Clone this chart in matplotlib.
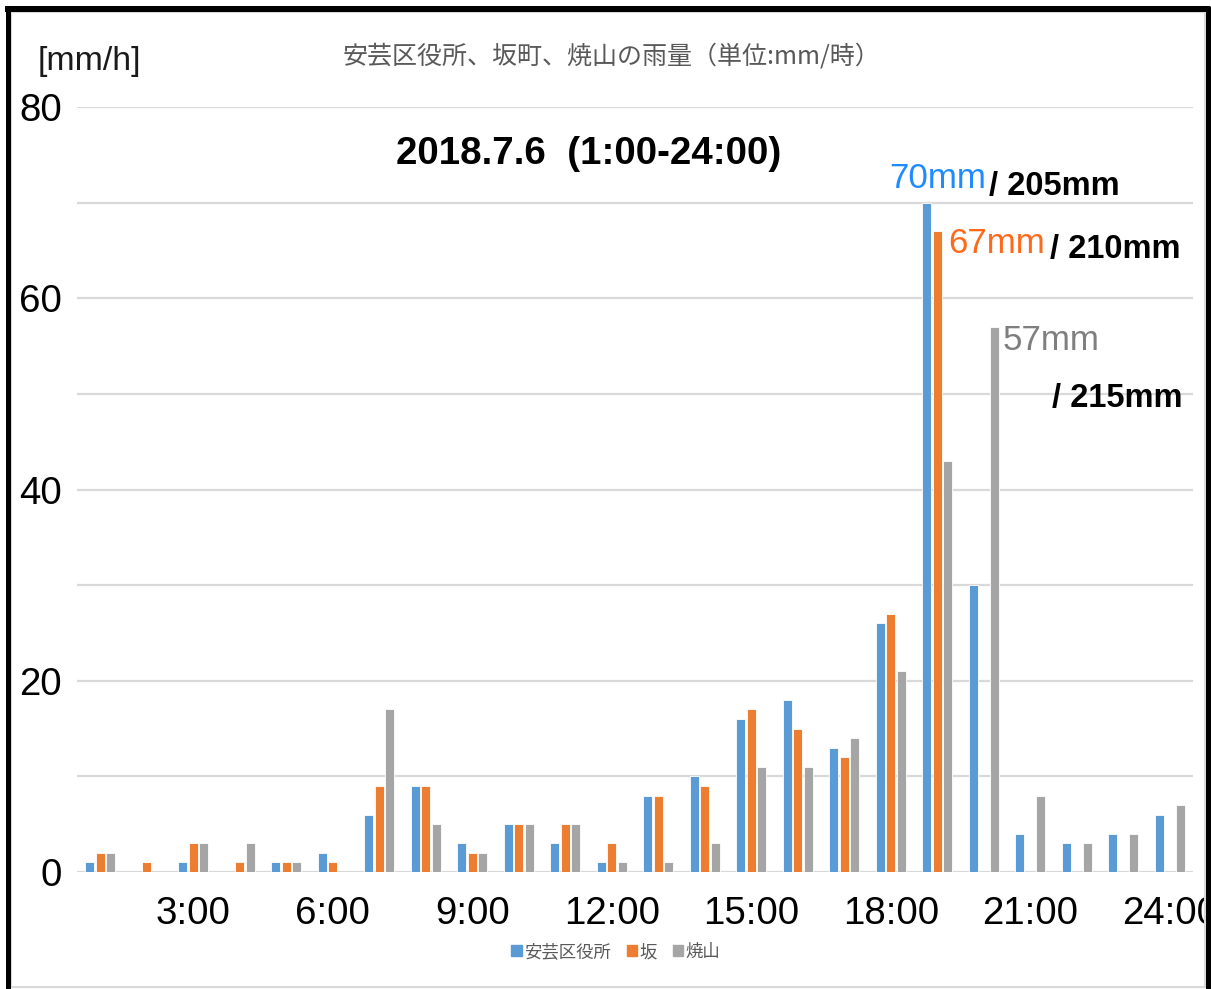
import matplotlib
matplotlib.use("Agg")
import matplotlib.pyplot as plt
from matplotlib import font_manager
from matplotlib.patches import Rectangle
from matplotlib.lines import Line2D

# ---- data -------------------------------------------------------------
hours = [f"{h}:00" for h in range(1, 25)]
tick_labels = ["3:00", "6:00", "9:00", "12:00", "15:00", "18:00", "21:00", "24:00"]
series_names = ["安芸区役所", "坂", "焼山"]
aki_ward = [1, 0, 1, 0, 1, 2, 6, 9, 3, 5, 3, 1, 8, 10, 16, 18, 13, 26, 70, 30, 4, 3, 4, 6]
saka = [2, 1, 3, 1, 1, 1, 9, 9, 2, 5, 5, 3, 8, 9, 17, 15, 12, 27, 67, 0, 0, 0, 0, 0]
yakeyama = [2, 0, 3, 3, 1, 0, 17, 5, 2, 5, 5, 1, 1, 3, 11, 11, 14, 21, 43, 57, 8, 3, 4, 7]
totals = [205, 210, 215]
title = "安芸区役所、坂町、焼山の雨量（単位:mm/時）"
date_text = "2018.7.6  (1:00-24:00)"
unit_text = "[mm/h]"

# ---- fonts ------------------------------------------------------------
_names = {f.name for f in font_manager.fontManager.ttflist}
NARROW = "Liberation Sans Narrow" in _names
LATIN = "Liberation Sans Narrow" if NARROW else "Liberation Sans"
CJK = "Noto Sans CJK JP"
K = 1.0 if NARROW else 0.84
plt.rcParams["font.family"] = [LATIN, CJK, "DejaVu Sans"]

W, H = 1211, 989
fig = plt.figure(figsize=(W / 100, H / 100), dpi=100)
fig.patch.set_facecolor("white")


def fx(px):
    return px / W


def fy(py):
    return 1 - py / H


ax = fig.add_axes([fx(77), fy(872), fx(1193) - fx(77), fy(107) - fy(872)])

colors = ["#5B9BD5", "#ED7D31", "#A5A5A5"]
x = list(range(len(hours)))
width = 0.195
step = 0.222
for k, (vals, c) in enumerate(zip([aki_ward, saka, yakeyama], colors)):
    ax.bar([xi + (k - 1) * step for xi in x], vals, width=width, color=c,
           edgecolor="white", linewidth=0.6, zorder=3)

ax.set_xlim(-0.5, len(hours) - 0.5)
ax.set_ylim(0, 80)
ax.set_yticks(range(0, 81, 10))
ax.set_yticklabels([str(v) if v % 20 == 0 else "" for v in range(0, 81, 10)])
ax.set_xticks([hours.index(t) for t in tick_labels])
ax.set_xticklabels(tick_labels)
ax.grid(axis="y", color="#D9D9D9", linewidth=1.6, zorder=0)
ax.set_axisbelow(True)
for s in ax.spines.values():
    s.set_visible(False)
ax.tick_params(length=0)
ax.tick_params(axis="y", labelsize=33 * K, pad=11)
ax.tick_params(axis="x", labelsize=33 * K, pad=17)
for lab in ax.get_xticklabels():
    lab.set_clip_on(False)

# peak labels with running totals
peaks = [(aki_ward[18], "#1F8BFF", 16.96, 71.5, totals[0], 19.12, 70.8),
         (saka[18], "#FF6A1A", 18.23, 64.7, totals[1], 20.42, 64.2),
         (yakeyama[19], "#7F7F7F", 19.41, 54.6, totals[2], 20.46, 48.6)]
for val, col, xv, yv, tot, xt, yt in peaks:
    ax.text(xv, yv, f"{val}mm", color=col, fontsize=30 * K, va="baseline",
            ha="left")
    ax.text(xt, yt, f"/ {tot}mm", color="black", fontsize=28 * K, va="baseline",
            ha="left", fontweight="bold")

# headings
fig.text(fx(38), fy(70), unit_text, fontsize=29 * K, color="#1a1a1a",
         ha="left", va="baseline")
fig.text(fx(611), fy(56), title, fontsize=18, color="#595959",
         ha="center", va="center", family=[CJK, "DejaVu Sans"])
fig.text(fx(589), fy(164), date_text, fontsize=33 * K, fontweight="bold",
         color="black", ha="center", va="baseline")

# legend
handles = [Rectangle((0, 0), 1, 1, color=c) for c in colors]
leg = fig.legend(handles, series_names, loc="center", ncol=3,
                 bbox_to_anchor=(fx(616), fy(952)), frameon=False,
                 handlelength=0.6, handleheight=0.6, handletextpad=0.15,
                 columnspacing=0.9, prop={"family": [CJK, "DejaVu Sans"], "size": 12.5})
for t in leg.get_texts():
    t.set_color("#595959")

# chart frame
fig.add_artist(Rectangle((fx(11), fy(987)), fx(1205) - fx(11), fy(12) - fy(987),
                         transform=fig.transFigure, fill=False,
                         edgecolor="#D9D9D9", linewidth=1.5, zorder=5))
for xs, ys, lw in [((7.5, 7.5), (6, 989), 5),
                   ((1207.5, 1207.5), (6, 989), 5),
                   ((5, 1210), (9, 9), 6)]:
    fig.add_artist(Line2D([fx(v) for v in xs], [fy(v) for v in ys],
                          transform=fig.transFigure, color="black",
                          linewidth=lw * 0.72, zorder=10,
                          solid_capstyle="butt"))

fig.savefig("out.png", dpi=100, facecolor="white")
